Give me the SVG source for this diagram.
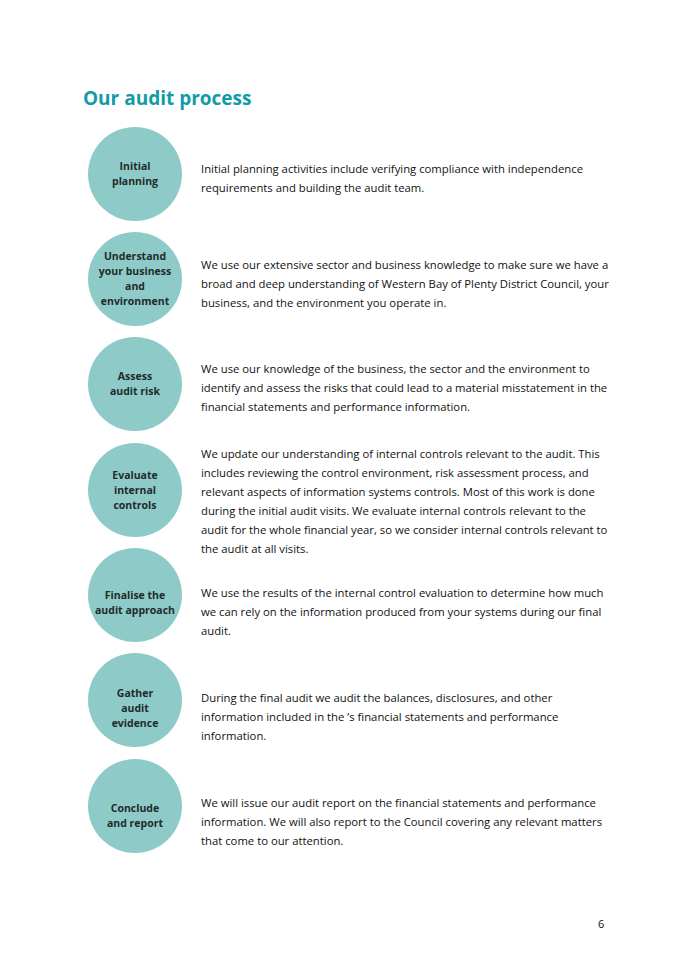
<svg xmlns="http://www.w3.org/2000/svg" width="683" height="965" viewBox="0 0 683 965">
<style>
.c{fill:#8ecbc8}
.l{font-family:"Open Sans","Liberation Sans",sans-serif;font-size:10.5px;font-weight:bold;fill:#1f2a2a;text-anchor:middle}
.t{font-family:"Open Sans","Liberation Sans",sans-serif;font-size:11.3px;fill:#111}
</style>
<rect width="683" height="965" fill="#fff"/>
<text x="83" y="105" font-family="Open Sans, Liberation Sans, sans-serif" font-size="19" font-weight="bold" fill="#119ba6">Our audit process</text>
<g id="n1"><circle class="c" cx="135" cy="174" r="47"/><text class="l" x="135" y="170">Initial</text><text class="l" x="135" y="185">planning</text>
<text class="t" x="201" y="173">Initial planning activities include verifying compliance with independence</text><text class="t" x="201" y="192">requirements and building the audit team.</text></g>
<g id="n2"><circle class="c" cx="135" cy="279" r="47"/><text class="l" x="135" y="260">Understand</text><text class="l" x="135" y="275">your business</text><text class="l" x="135" y="290">and</text><text class="l" x="135" y="305">environment</text>
<text class="t" x="201" y="269">We use our extensive sector and business knowledge to make sure we have a</text><text class="t" x="201" y="288">broad and deep understanding of Western Bay of Plenty District Council, your</text><text class="t" x="201" y="307">business, and the environment you operate in.</text></g>
<g id="n3"><circle class="c" cx="135" cy="384" r="47"/><text class="l" x="135" y="380">Assess</text><text class="l" x="135" y="395">audit risk</text>
<text class="t" x="201" y="373">We use our knowledge of the business, the sector and the environment to</text><text class="t" x="201" y="392">identify and assess the risks that could lead to a material misstatement in the</text><text class="t" x="201" y="411">financial statements and performance information.</text></g>
<g id="n4"><circle class="c" cx="135" cy="490" r="47"/><text class="l" x="135" y="479">Evaluate</text><text class="l" x="135" y="494">internal</text><text class="l" x="135" y="509">controls</text>
<text class="t" x="201" y="458">We update our understanding of internal controls relevant to the audit. This</text><text class="t" x="201" y="477">includes reviewing the control environment, risk assessment process, and</text><text class="t" x="201" y="496">relevant aspects of information systems controls. Most of this work is done</text><text class="t" x="201" y="515">during the initial audit visits. We evaluate internal controls relevant to the</text><text class="t" x="201" y="534">audit for the whole financial year, so we consider internal controls relevant to</text><text class="t" x="201" y="553">the audit at all visits.</text></g>
<g id="n5"><circle class="c" cx="135" cy="595" r="47"/><text class="l" x="135" y="599">Finalise the</text><text class="l" x="135" y="614">audit approach</text>
<text class="t" x="201" y="597">We use the results of the internal control evaluation to determine how much</text><text class="t" x="201" y="616">we can rely on the information produced from your systems during our final</text><text class="t" x="201" y="635">audit.</text></g>
<g id="n6"><circle class="c" cx="135" cy="700" r="47"/><text class="l" x="135" y="697">Gather</text><text class="l" x="135" y="712">audit</text><text class="l" x="135" y="727">evidence</text>
<text class="t" x="201" y="702">During the final audit we audit the balances, disclosures, and other</text><text class="t" x="201" y="721">information included in the ’s financial statements and performance</text><text class="t" x="201" y="740">information.</text></g>
<g id="n7"><circle class="c" cx="135" cy="806" r="47"/><text class="l" x="135" y="812">Conclude</text><text class="l" x="135" y="827">and report</text>
<text class="t" x="201" y="807">We will issue our audit report on the financial statements and performance</text><text class="t" x="201" y="826">information. We will also report to the Council covering any relevant matters</text><text class="t" x="201" y="845">that come to our attention.</text></g>
<text x="598" y="928" font-family="Open Sans, Liberation Sans, sans-serif" font-size="11" fill="#111">6</text>
</svg>
